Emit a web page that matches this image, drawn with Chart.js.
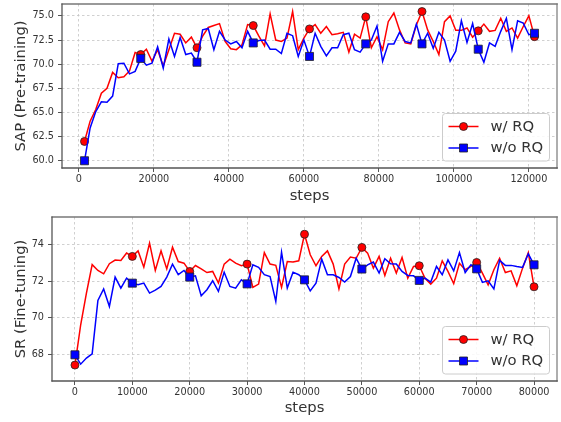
<!DOCTYPE html>
<html><head><meta charset="utf-8">
<script src="https://cdn.jsdelivr.net/npm/chart.js@4.4.0/dist/chart.umd.min.js"></script>
<style>
html,body{margin:0;padding:0;background:#fff;overflow:hidden}
#wrap{position:relative;width:561px;height:422px}
.box{position:absolute;left:0;width:561px}
</style></head><body>
<div id="wrap">
<div class="box" style="top:0;height:210px"><canvas id="c1" width="561" height="210"></canvas></div>
<div class="box" style="top:210px;height:212px"><canvas id="c2" width="561" height="212"></canvas></div>
</div>
<script>
// ---------- data ----------
const seriesLabels = ['w/ RQ', 'w/o RQ'];

const topSteps = [1500,3000,4500,6000,7500,9000,10500,12000,13500,15000,16500,18000,19500,21000,22500,24000,25500,27000,28500,30000,31500,33000,34500,36000,37500,39000,40500,42000,43500,45000,46500,48000,49500,51000,52500,54000,55500,57000,58500,60000,61500,63000,64500,66000,67500,69000,70500,72000,73500,75000,76500,78000,79500,81000,82500,84000,85500,87000,88500,90000,91500,93000,94500,96000,97500,99000,100500,102000,103500,105000,106500,108000,109500,111000,112500,114000,115500,117000,118500,120000,121500];
const sapWithRQ = [62.0,64.1,65.3,67.0,67.5,69.15,68.6,68.7,69.3,71.2,71.0,71.55,70.3,71.5,69.8,71.5,73.2,73.1,72.2,72.8,71.7,72.9,73.8,74.0,74.2,72.35,71.6,71.5,72.0,74.1,74.0,72.9,71.9,75.2,72.5,72.35,72.7,75.45,71.5,72.7,73.65,74.1,73.2,73.9,73.05,73.15,73.3,71.25,73.1,72.7,74.9,71.7,72.85,71.5,74.4,75.3,73.55,72.2,72.1,74.05,75.45,73.55,72.35,71.0,74.4,75.0,73.5,73.5,73.75,72.8,73.45,74.15,73.4,73.5,74.75,73.4,73.75,72.7,73.9,75.0,72.85];
const sapWithoutRQ = [60.0,63.4,65.1,66.1,66.05,66.7,70.05,70.1,69.0,69.25,70.6,69.9,70.1,71.8,69.6,72.6,70.8,72.75,71.0,71.15,70.2,73.55,73.7,71.5,73.4,72.5,72.1,72.35,71.7,73.4,72.2,72.45,72.5,71.55,71.55,71.1,73.2,72.95,70.8,72.5,70.8,73.2,71.85,70.85,71.7,71.7,73.05,73.2,71.5,71.25,72.1,72.5,73.95,70.3,72.1,72.1,73.3,72.35,72.2,74.15,72.1,73.2,71.65,73.3,72.5,70.3,71.35,74.5,72.25,74.2,71.55,70.2,72.2,71.85,73.4,74.75,71.5,74.5,74.25,73.05,73.2];
const topXTicks = [0,20000,40000,60000,80000,100000,120000];
const topYTicks = [60,62.5,65,67.5,70,72.5,75];

const botSteps = [0,1000,2000,3000,4000,5000,6000,7000,8000,9000,10000,11000,12000,13000,14000,15000,16000,17000,18000,19000,20000,21000,22000,23000,24000,25000,26000,27000,28000,29000,30000,31000,32000,33000,34000,35000,36000,37000,38000,39000,40000,41000,42000,43000,44000,45000,46000,47000,48000,49000,50000,51000,52000,53000,54000,55000,56000,57000,58000,59000,60000,61000,62000,63000,64000,65000,66000,67000,68000,69000,70000,71000,72000,73000,74000,75000,76000,77000,78000,79000,80000];
const srWithRQ = [67.42,69.62,71.35,72.9,72.58,72.4,72.95,73.15,73.13,73.53,73.35,73.65,72.76,74.07,72.58,73.65,72.67,73.85,73.07,72.98,72.53,72.85,72.67,72.47,72.53,71.9,72.93,73.2,72.98,72.84,72.93,71.66,71.84,73.56,72.93,72.86,71.66,73.07,73.04,73.11,74.56,73.44,72.84,73.35,73.65,72.93,71.57,72.93,73.31,73.25,73.84,73.53,72.71,73.35,72.31,73.25,72.44,73.29,72.16,72.8,72.84,72.16,71.84,72.16,73.11,72.53,71.86,72.98,72.62,72.8,73.02,72.44,71.8,72.62,73.25,72.47,72.56,71.75,72.71,73.56,71.69];
const srWithoutRQ = [67.98,67.47,67.8,68.03,70.95,71.57,70.62,72.22,71.62,72.16,71.89,71.8,71.89,71.35,71.51,71.71,72.22,72.93,72.35,72.58,72.22,72.29,71.2,71.53,72.02,71.44,72.49,71.71,71.62,72.07,71.85,72.89,72.75,72.35,72.25,70.89,73.58,71.62,72.49,72.35,72.07,71.47,71.89,73.2,72.35,72.35,72.2,71.95,72.25,73.25,72.66,72.89,73.04,72.44,73.22,72.95,72.93,72.53,72.31,72.29,72.04,72.16,71.95,72.8,72.35,73.16,72.56,73.56,72.47,72.89,72.67,71.93,72.02,71.58,73.13,72.86,72.86,72.8,72.75,73.49,72.89];
const botXTicks = [0,10000,20000,30000,40000,50000,60000,70000,80000];
const botYTicks = [68,70,72,74];

// ---------- style ----------
const FONT = 'DejaVu Sans';
const RED = '#ff0000', BLUE = '#0000ff';
const EDGE = '#222222';

const pairs = (xs, ys) => xs.map((x, i) => ({x: x, y: ys[i]}));

const framePlugin = {
  id: 'frameLegend',
  afterDraw(chart) {
    const {ctx, chartArea: a} = chart;
    ctx.save();
    // frame (spines)
    const seg = (x1, y1, x2, y2, col, w) => {
      ctx.beginPath(); ctx.moveTo(x1, y1); ctx.lineTo(x2, y2);
      ctx.strokeStyle = col; ctx.lineWidth = w; ctx.stroke();
    };
    seg(a.right, a.top - 0.6, a.right, a.bottom + 0.6, '#9a9a9a', 1.6);
    seg(a.left - 0.6, a.top, a.right + 0.8, a.top, '#777777', 1.4);
    seg(a.left, a.top - 0.6, a.left, a.bottom + 0.6, '#555555', 1.3);
    seg(a.left - 0.6, a.bottom, a.right + 0.8, a.bottom, '#555555', 1.3);
    // legend
    const w = 107, h = 47.5;
    const x = a.right - 7.5 - w, y = a.bottom - 7 - h;
    const r = 3;
    ctx.beginPath();
    ctx.moveTo(x + r, y);
    ctx.lineTo(x + w - r, y); ctx.arcTo(x + w, y, x + w, y + r, r);
    ctx.lineTo(x + w, y + h - r); ctx.arcTo(x + w, y + h, x + w - r, y + h, r);
    ctx.lineTo(x + r, y + h); ctx.arcTo(x, y + h, x, y + h - r, r);
    ctx.lineTo(x, y + r); ctx.arcTo(x, y, x + r, y, r);
    ctx.closePath();
    ctx.fillStyle = 'rgba(255,255,255,0.85)';
    ctx.fill();
    ctx.lineWidth = 1;
    ctx.strokeStyle = '#cccccc';
    ctx.stroke();
    const rows = [
      {label: seriesLabels[0], color: RED, shape: 'circle'},
      {label: seriesLabels[1], color: BLUE, shape: 'rect'}
    ];
    rows.forEach((row, i) => {
      const cy = y + 13 + i * 21.5;
      ctx.beginPath();
      ctx.moveTo(x + 6, cy); ctx.lineTo(x + 36, cy);
      ctx.strokeStyle = row.color; ctx.lineWidth = 1.5; ctx.stroke();
      ctx.beginPath();
      if (row.shape === 'circle') ctx.arc(x + 21, cy, 4, 0, Math.PI * 2);
      else ctx.rect(x + 17, cy - 4, 8, 8);
      ctx.fillStyle = row.color; ctx.fill();
      ctx.lineWidth = 0.8; ctx.strokeStyle = EDGE; ctx.stroke();
      ctx.fillStyle = '#333333';
      ctx.font = '14.8px "' + FONT + '"';
      ctx.textBaseline = 'middle';
      ctx.textAlign = 'left';
      ctx.fillText(row.label, x + 48, cy + 0.5);
    });
    ctx.restore();
  }
};

function makeChart(id, cfg) {
  const marker = c => (c.dataIndex % 10 === 0 ? 1 : 0);
  return new Chart(document.getElementById(id), {
    type: 'line',
    data: {
      datasets: [
        {label: seriesLabels[0], data: pairs(cfg.steps, cfg.a), borderColor: RED, backgroundColor: RED,
         borderWidth: 1.5, tension: 0, fill: false, order: 1,
         pointStyle: 'circle', pointRadius: c => marker(c) * 4, pointHoverRadius: 0,
         pointBackgroundColor: RED, pointBorderColor: EDGE, pointBorderWidth: 0.8},
        {label: seriesLabels[1], data: pairs(cfg.steps, cfg.b), borderColor: BLUE, backgroundColor: BLUE,
         borderWidth: 1.5, tension: 0, fill: false, order: 0,
         pointStyle: 'rect', pointRadius: c => marker(c) * 5.7, pointHoverRadius: 0,
         pointBackgroundColor: BLUE, pointBorderColor: EDGE, pointBorderWidth: 0.8}
      ]
    },
    options: {
      responsive: false,
      animation: false,
      events: [],
      layout: {autoPadding: false, padding: {left: 0, right: 4, top: cfg.padTop, bottom: 0}},
      plugins: {legend: {display: false}, tooltip: {enabled: false}, title: {display: false}},
      scales: {
        x: {
          type: 'linear', position: 'bottom', min: cfg.xMin, max: cfg.xMax,
          afterBuildTicks: s => { s.ticks = cfg.xTicks.map(v => ({value: v})); },
          afterFit: s => { s.height = cfg.xAxisH; s.paddingLeft = 0; s.paddingRight = 0; },
          ticks: {font: {family: FONT, size: 9.7}, color: '#333333', padding: 2, maxRotation: 0, autoSkip: false,
                  callback: v => String(v)},
          grid: {color: '#c4c4c4', lineWidth: 0.8, tickLength: 4, tickColor: '#555555', tickWidth: 1},
          border: {display: false, dash: [2.5, 2.5]},
          title: {display: true, text: 'steps', font: {family: FONT, size: 14.8}, color: '#333333',
                  padding: {top: 0, bottom: 5}}
        },
        y: {
          type: 'linear', position: 'left', min: cfg.yMin, max: cfg.yMax,
          afterBuildTicks: s => { s.ticks = cfg.yTicks.map(v => ({value: v})); },
          afterFit: s => { s.width = cfg.yAxisW; s.paddingTop = 0; s.paddingBottom = 0; },
          ticks: {font: {family: FONT, size: 9.7}, color: '#333333', padding: 4, autoSkip: false,
                  callback: cfg.yFmt},
          grid: {color: '#c4c4c4', lineWidth: 0.8, tickLength: 4, tickColor: '#555555', tickWidth: 1},
          border: {display: false, dash: [2.5, 2.5]},
          title: {display: true, text: cfg.yTitle, font: {family: FONT, size: 14.8}, color: '#333333',
                  padding: {top: 12, bottom: 0}}
        }
      }
    },
    plugins: [framePlugin]
  });
}

makeChart('c1', {
  steps: topSteps, a: sapWithRQ, b: sapWithoutRQ,
  xMin: -4500, xMax: 127500, yMin: 59.25, yMax: 76.23,
  xTicks: topXTicks, yTicks: topYTicks, yFmt: v => v.toFixed(1),
  yTitle: 'SAP (Pre-training)', padTop: 4, xAxisH: 42, yAxisW: 62
});
makeChart('c2', {
  steps: botSteps, a: srWithRQ, b: srWithoutRQ,
  xMin: -4000, xMax: 84000, yMin: 66.55, yMax: 75.5,
  xTicks: botXTicks, yTicks: botYTicks, yFmt: v => String(v),
  yTitle: 'SR (Fine-tuning)', padTop: 7, xAxisH: 41, yAxisW: 52
});
</script>
</body></html>
